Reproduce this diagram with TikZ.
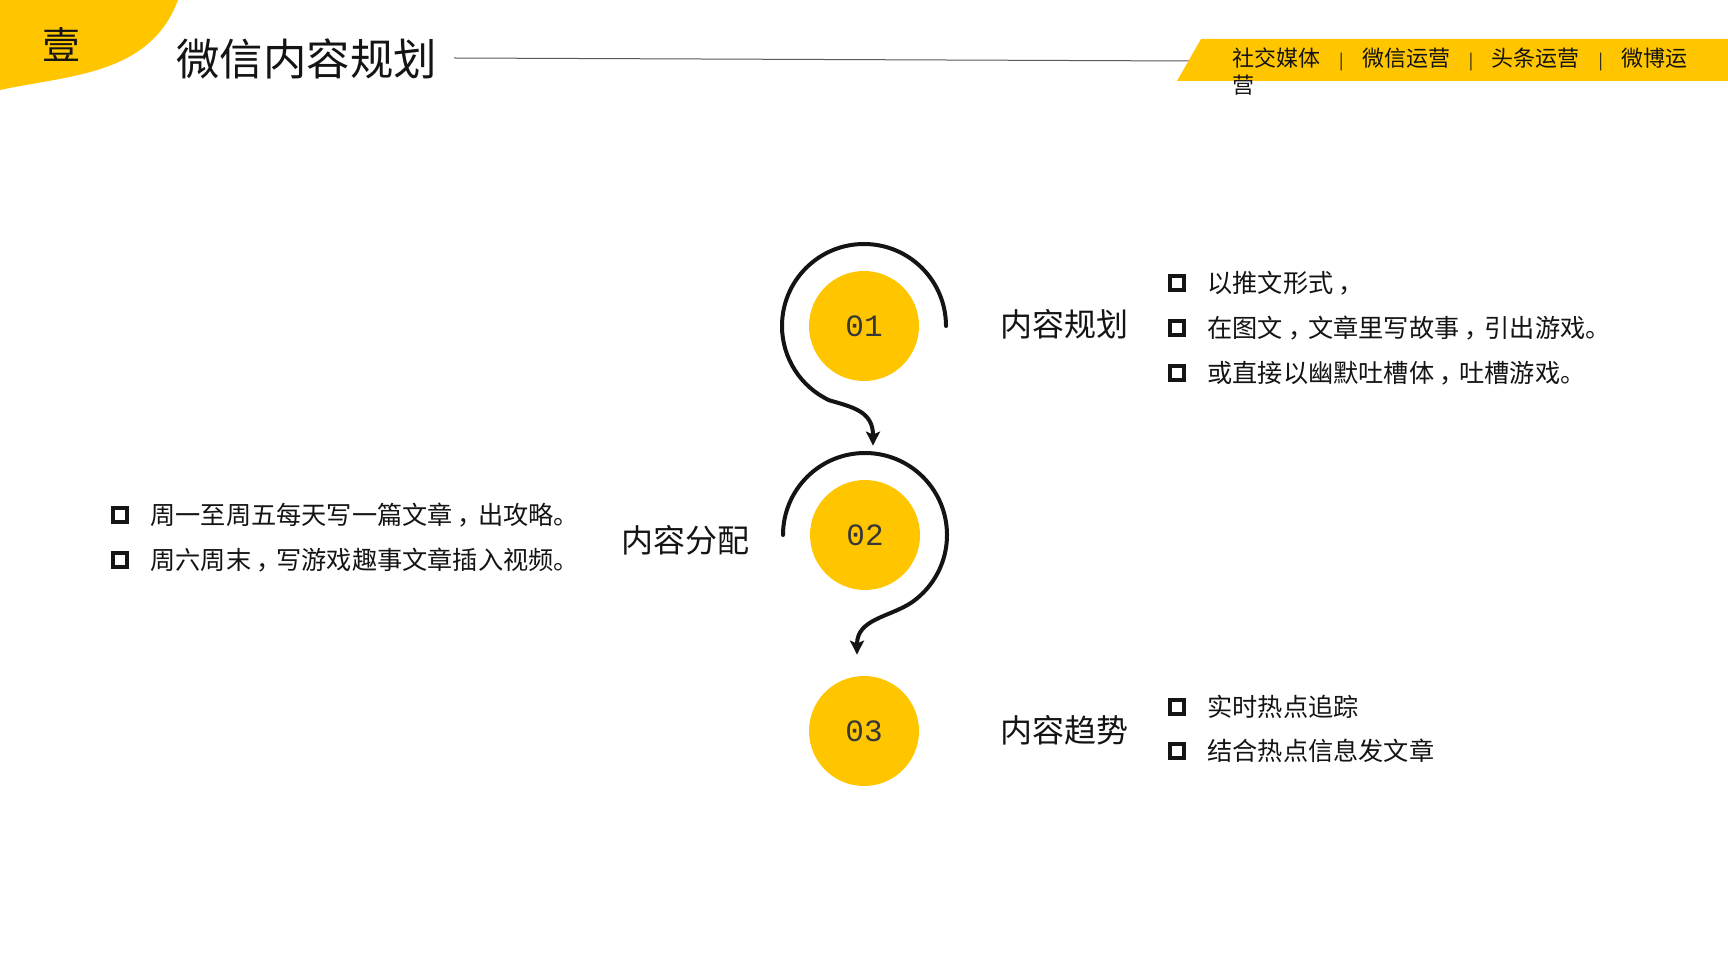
\documentclass[tikz,border=0pt]{standalone}
\usepackage{fontspec}
\setmainfont{Noto Sans CJK SC}
\newfontfamily\numfont{Liberation Mono}
\usetikzlibrary{arrows.meta}
\definecolor{gold}{HTML}{FFC600}
\definecolor{ink}{HTML}{141414}
\newcommand{\tagsep}{\hspace{0.85em}{\fontsize{8}{8}\selectfont|}\hspace{0.85em}}
\newcommand{\zcomma}{\hspace{0.2em}\makebox[0.8em][l]{，}}
\tikzset{
  stage/.style={circle, fill=gold, minimum size=55pt, inner sep=0pt, text=ink!85,
    font=\numfont\fontsize{15.5}{15.5}\selectfont},
  topic/.style={anchor=west, inner sep=0pt, text=ink, font=\fontsize{16}{16}\selectfont},
  tickbox/.style={draw=ink, line width=2.3pt, minimum size=7pt, inner sep=0pt},
  pointtext/.style={anchor=west, inner sep=0pt, text=ink, font=\fontsize{12.6}{12.6}\selectfont},
  spiral/.style={ink, line width=2pt, line cap=round,
    -{Stealth[length=7pt,width=7pt,inset=1.5pt]}},
}

\begin{document}
\begin{tikzpicture}[x=0.5pt, y=-0.5pt]
        % Page
        \fill[white] (0,0) rectangle (1728,972);
        \useasboundingbox (0,0) rectangle (1728,972);
        % Header
        \fill[gold] (0,0) -- (178,0) .. controls (150,75) and (70,75) .. (0,90) -- cycle;
        \node[text=ink, font=\fontsize{19}{19}\selectfont] (num) at (61,45) {壹};
        \node[anchor=west, inner sep=0pt, text=ink, font=\fontsize{21.7}{21.7}\selectfont] (title) at (176,59) {微信内容规划};
        \draw[black!65, line width=0.5pt] (454,58) -- (1190,61);
        \fill[gold] (1177,81) -- (1201,39) -- (1728,39) -- (1728,81) -- cycle;
        \node[anchor=west, inner sep=0pt, text=ink, font=\fontsize{11}{11}\selectfont] (tag1) at (1232,59)
          {社交媒体\tagsep 微信运营\tagsep 头条运营\tagsep 微博运};
        \node[anchor=west, inner sep=0pt, text=ink, font=\fontsize{11}{11}\selectfont] (tag2) at (1232,85.5) {营};
        % Stages
        \node[stage] (c1) at (864,326) {01};
        \node[stage] (c2) at (865,535) {02};
        \node[stage] (c3) at (864,731) {03};
        \node[topic] (l1) at (1000,324) {内容规划};
        \node[topic] (l2) at (621,540) {内容分配};
        \node[topic] (l3) at (1000,730) {内容趋势};
        % Spiral arrows
        \draw[spiral] ([xshift=41pt]c1.center) arc[start angle=0, end angle=-245, radius=82]
          .. controls +(24,7) and +(0,-34) .. ([xshift=4pt, yshift=17pt]c2.north);
        \draw[spiral] ([xshift=-41pt]c2.center) arc[start angle=-180, end angle=55, radius=82]
          .. controls +(-22,15) and +(0,-36) .. ([xshift=-3.5pt, yshift=10.5pt]c3.north);
        % Points of 01
        \node[tickbox] (b11) at (1177,283) {};
        \node[pointtext] (p11) at (1207,283) {以推文形式\zcomma};
        \node[tickbox] (b12) at (1177,328) {};
        \node[pointtext] (p12) at (1207,328) {在图文\zcomma 文章里写故事\zcomma 引出游戏。};
        \node[tickbox] (b13) at (1177,373) {};
        \node[pointtext] (p13) at (1207,373) {或直接以幽默吐槽体\zcomma 吐槽游戏。};
        % Points of 02
        \node[tickbox] (b21) at (120,515) {};
        \node[pointtext] (p21) at (150,515) {周一至周五每天写一篇文章\zcomma 出攻略。};
        \node[tickbox] (b22) at (120,560) {};
        \node[pointtext] (p22) at (150,560) {周六周末\zcomma 写游戏趣事文章插入视频。};
        % Points of 03
        \node[tickbox] (b31) at (1177,707) {};
        \node[pointtext] (p31) at (1207,707) {实时热点追踪};
        \node[tickbox] (b32) at (1177,751) {};
        \node[pointtext] (p32) at (1207,751) {结合热点信息发文章};
      \end{tikzpicture}
\end{document}
